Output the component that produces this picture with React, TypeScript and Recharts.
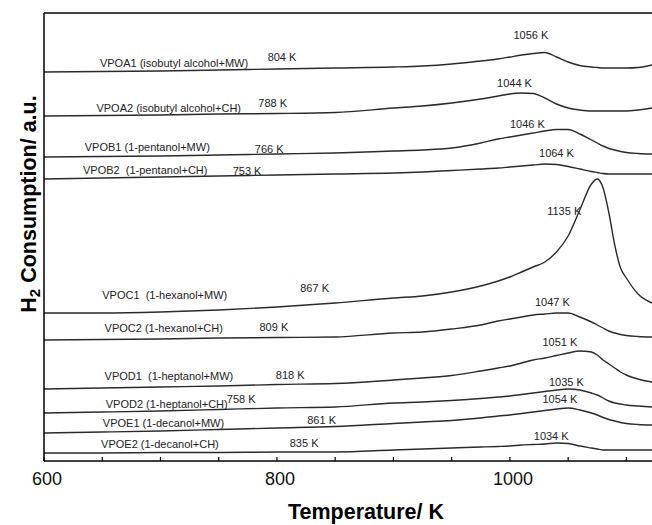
import React from "react";
import {
  LineChart,
  Line,
  XAxis,
  YAxis,
  ReferenceLine,
  ReferenceDot,
  Label,
} from "recharts";

// temperature grid (K)
const temps = [
  600, 650, 700, 750, 800, 850, 900, 925, 950, 975, 990, 1000, 1010, 1020,
  1030, 1040, 1050, 1060, 1070, 1075, 1080, 1085, 1090, 1095, 1100, 1110, 1122,
];

// stacked TPR profiles (offset a.u.)
const vpoa1 = [389, 389.5, 390, 391, 392, 393, 394, 395, 397, 400, 402, 404, 406, 407.5, 408.5, 404, 399, 395.5, 394, 393.5, 393, 393, 393, 393, 393, 393.5, 396];
const vpoa2 = [345, 345.5, 346, 347, 347.5, 348.5, 353, 355, 358, 362, 365, 367, 368, 367.5, 363, 357, 353, 351, 350, 350, 350, 350, 350, 350, 350, 351, 353];
const vpob1 = [304, 304.5, 305, 306, 307, 308, 310, 311, 313, 318, 322, 324, 326, 328, 330, 331.5, 331.5, 327, 321, 318, 315, 312.5, 311, 309.5, 308.5, 307.5, 307];
const vpob2 = [282, 283, 284, 285, 286, 287, 288, 289, 290.5, 292, 293, 294, 295, 296, 297, 296.5, 294.5, 292, 289.5, 288.5, 287.5, 287, 287, 287, 287, 287, 287];
const vpoc1 = [148, 148, 149, 151, 154, 158, 163, 165, 169, 175, 180, 184, 189, 194, 199, 209, 225, 251, 277, 282, 273, 248, 216, 193, 183, 167, 158];
const vpoc2 = [121, 121.5, 122, 123, 123.5, 124, 128, 129, 132, 136, 140, 142, 144, 146, 147, 148, 148, 144, 139, 136, 133, 130, 128, 126.5, 125.5, 124.5, 124];
const vpod1 = [72, 73, 74, 75, 76.5, 77.5, 81, 83, 85.5, 90, 93, 95, 98, 101, 103, 105.5, 108, 110, 109, 106, 101, 97, 93, 89, 86, 82, 79];
const vpod2 = [48, 49, 50, 51.5, 53, 54, 58, 59, 60.5, 62.5, 64, 65, 66.5, 68, 69.5, 71, 72, 71, 68, 66, 63, 60, 58, 57, 56, 55, 54];
const vpoe1 = [28, 29, 30, 31.5, 33, 34.5, 37.5, 39, 40.5, 43, 45, 46, 47.5, 49, 50.5, 52, 53, 51, 48, 46, 43.5, 41.5, 40, 38.5, 37.5, 36.5, 36];
const vpoe2 = [8, 8, 8.5, 8.5, 9, 9, 11, 12, 13, 14, 14.5, 15, 16, 16.5, 17, 18, 17.5, 15, 13, 12, 11, 11, 11, 11, 11, 11, 11];

const seriesKeys = ["vpoa1", "vpoa2", "vpob1", "vpob2", "vpoc1", "vpoc2", "vpod1", "vpod2", "vpoe1", "vpoe2"];
const seriesValues = [vpoa1, vpoa2, vpob1, vpob2, vpoc1, vpoc2, vpod1, vpod2, vpoe1, vpoe2];

const xTicks = [600, 650, 700, 750, 800, 850, 900, 950, 1000, 1050, 1100];
const xTickLabels = [600, 800, 1000];

// annotation text at (K, a.u.)
const annotTexts = [
  "VPOA1 (isobutyl alcohol+MW)", "804 K", "1056 K",
  "VPOA2 (isobutyl alcohol+CH)", "788 K", "1044 K",
  "VPOB1 (1-pentanol+MW)", "766 K", "1046 K",
  "VPOB2  (1-pentanol+CH)", "753 K", "1064 K",
  "1135 K",
  "VPOC1  (1-hexanol+MW)", "867 K",
  "VPOC2 (1-hexanol+CH)", "809 K", "1047 K",
  "VPOD1  (1-heptanol+MW)", "818 K", "1051 K",
  "VPOD2 (1-heptanol+CH)", "758 K", "1035 K",
  "VPOE1 (1-decanol+MW)", "861 K", "1054 K",
  "VPOE2 (1-decanol+CH)", "835 K", "1034 K",
];
const annotX = [
  648, 792, 1003,
  645, 784, 989,
  635, 781, 1000,
  633.5, 762, 1025,
  1032,
  650, 820,
  652, 785, 1021.5,
  652, 799, 1028,
  653, 757, 1033.5,
  650.5, 826, 1028,
  649, 811, 1020.5,
];
const annotY = [
  398, 404, 426,
  353, 358, 378,
  314, 312, 337,
  291, 290, 308,
  250,
  166, 173,
  133, 134, 159,
  85, 86, 119,
  57, 62, 79,
  38, 41, 62,
  17, 18, 25,
];

const data = temps.map((t, i) => {
  const row: Record<string, number> = { t };
  seriesKeys.forEach((k, j) => {
    row[k] = seriesValues[j][i];
  });
  return row;
});

const FONT = '"Liberation Sans", Arial, sans-serif';

const XTick = (props: any) => {
  const { x, y, payload } = props;
  const show = xTickLabels.includes(payload.value);
  return (
    <g>
      <line x1={x} x2={x} y1={y} y2={y - 4} stroke="#000" strokeWidth={1.2} />
      {show && (
        <text
          x={x + 3}
          y={y + 18}
          textAnchor="middle"
          dominantBaseline="central"
          fontSize={18}
          fontFamily={FONT}
          fill="#111"
        >
          {payload.value}
        </text>
      )}
    </g>
  );
};

export default function App() {
  return (
    <div style={{ position: "absolute", left: 0, top: 0, background: "#fff" }}>
      <LineChart
        width={652}
        height={525}
        data={data}
        margin={{ top: 13, right: 0, bottom: 0, left: 0 }}
      >
        <XAxis
          dataKey="t"
          type="number"
          domain={[600, 1122]}
          ticks={xTicks}
          tick={<XTick />}
          tickLine={false}
          tickSize={0}
          tickMargin={0}
          height={64}
          interval={0}
          axisLine={{ stroke: "#000", strokeWidth: 1.5 }}
        >
          <Label
            content={() => (
              <text
                x={366}
                y={519}
                textAnchor="middle"
                fontSize={21.5}
                fontWeight="bold"
                fontFamily={FONT}
                fill="#000"
              >
                Temperature/ K
              </text>
            )}
          />
        </XAxis>
        <YAxis
          type="number"
          domain={[0, 448]}
          width={44}
          tick={false}
          tickLine={false}
          axisLine={{ stroke: "#000", strokeWidth: 1.5 }}
        >
          <Label
            content={() => (
              <text
                transform="translate(29,204) rotate(-90)"
                textAnchor="middle"
                dominantBaseline="central"
                fontSize={21.5}
                fontWeight="bold"
                fontFamily={FONT}
                fill="#000"
              >
                H
                <tspan fontSize={15} dy={5}>2</tspan>
                <tspan dy={-5}> Consumption/ a.u.</tspan>
              </text>
            )}
          />
        </YAxis>
        <ReferenceLine y={448} stroke="#000" strokeWidth={1.5} />
        {seriesKeys.map((k) => (
          <Line
            key={k}
            dataKey={k}
            type="monotone"
            stroke="#2a2a2a"
            strokeWidth={1.4}
            dot={false}
            isAnimationActive={false}
          />
        ))}
        {annotTexts.map((txt, i) => (
          <ReferenceDot
            key={i}
            x={annotX[i]}
            y={annotY[i]}
            r={0}
            shape={(p: any) => (
              <text
                x={p.cx}
                y={p.cy}
                dominantBaseline="central"
                fontSize={11}
                fontFamily={FONT}
                fill="#222"
                style={{ whiteSpace: "pre" }}
              >
                {txt}
              </text>
            )}
          />
        ))}
      </LineChart>
    </div>
  );
}
